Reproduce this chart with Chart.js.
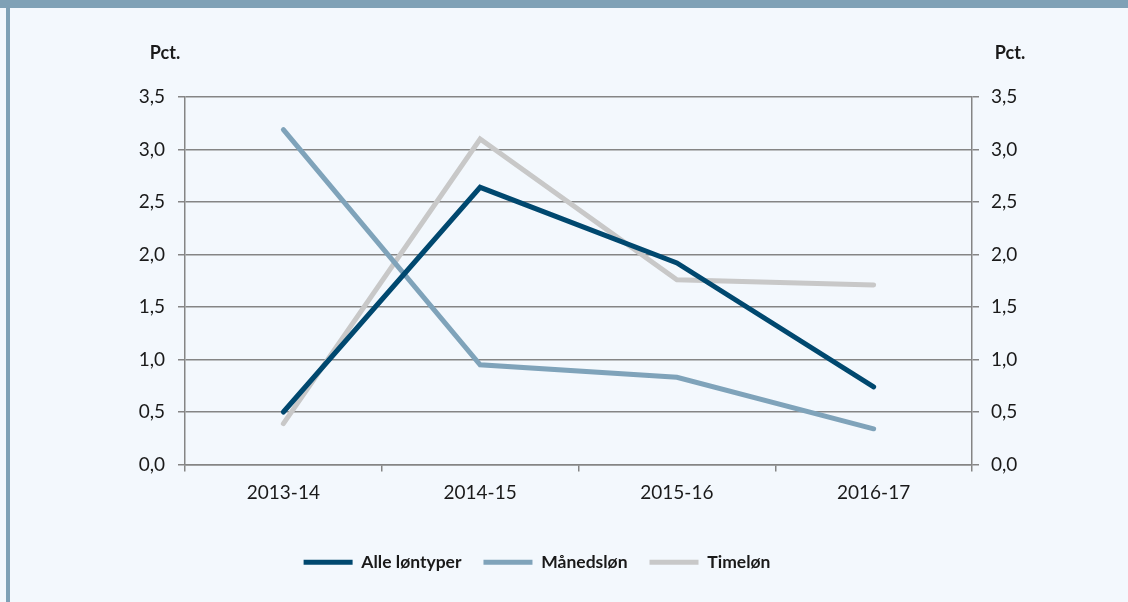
<!DOCTYPE html>
<html>
<head>
<meta charset="utf-8">
<script src="https://cdn.jsdelivr.net/npm/chart.js@4/dist/chart.umd.min.js"></script>
<style>
  html, body { margin: 0; padding: 0; }
  body { width: 1128px; height: 602px; background: #f3f8fd; position: relative; overflow: hidden; }
  #topbar { position: absolute; left: 0; top: 0; width: 1128px; height: 8px; background: #7fa1b6; }
  #leftbar { position: absolute; left: 6px; top: 8px; width: 4px; height: 594px; background: #7fa1b6; }
  #wrap { position: absolute; left: 10px; top: 8px; width: 1118px; height: 594px; }
</style>
</head>
<body>
<div id="topbar"></div>
<div id="leftbar"></div>
<div id="wrap"><canvas id="graf"></canvas></div>
<script>
// data
const perioder = ["2013-14", "2014-15", "2015-16", "2016-17"];
const alleLontyper = [0.5, 2.64, 1.92, 0.74];
const maanedslon = [3.19, 0.95, 0.83, 0.34];
const timelon = [0.39, 3.1, 1.76, 1.71];
const enhed = "Pct.";

const tekstFarve = "#1a1a1a";
const gitterFarve = "#858585";

// skriver "Pct." over begge akser
const pctPlugin = {
    id: "pct",
    afterDraw(chart) {
        const c = chart.ctx;
        const a = chart.chartArea;
        c.save();
        c.font = "bold 18px Lato";
        c.fillStyle = tekstFarve;
        c.textAlign = "center";
        c.textBaseline = "middle";
        c.fillText(enhed, a.left - 20, a.top - 44);
        c.fillText(enhed, a.right + 38, a.top - 44);
        c.restore();
    }
};

function linje(label, data, farve) {
    return {
        label: label,
        data: data,
        borderColor: farve,
        backgroundColor: farve,
        borderWidth: 5,
        borderCapStyle: "round",
        pointRadius: 0,
        pointHoverRadius: 0,
        pointStyle: "line",
        tension: 0
    };
}

document.addEventListener("DOMContentLoaded", function () {
    const ctx = document.getElementById("graf").getContext("2d");
    new Chart(ctx, {
        type: "line",
        data: {
            labels: perioder,
            datasets: [
                linje("Alle løntyper", alleLontyper, "#00486f"),
                linje("Månedsløn", maanedslon, "#7fa3ba"),
                linje("Timeløn", timelon, "#c8c8c8")
            ]
        },
        options: {
            responsive: true,
            maintainAspectRatio: false,
            animation: false,
            // højre padding flytter legenden lidt mod venstre
            layout: { padding: { top: 89, left: 0, right: 64, bottom: 21 } },
            plugins: {
                tooltip: { enabled: false },
                legend: {
                    position: "bottom",
                    labels: {
                        usePointStyle: true,
                        pointStyleWidth: 49,
                        boxHeight: 5,
                        padding: 22,
                        color: tekstFarve,
                        font: { family: "Lato", size: 17.5, weight: "bold" }
                    }
                }
            },
            scales: {
                x: {
                    offset: true,
                    grid: { offset: true, drawOnChartArea: false, drawTicks: true, tickLength: 7, color: gitterFarve, lineWidth: 1.5 },
                    border: { display: true, color: gitterFarve, width: 1.5 },
                    ticks: { color: tekstFarve, padding: 10, font: { family: "Lato", size: 19 } },
                    afterFit(s) { s.height = 67; }
                },
                y: {
                    position: "left",
                    min: 0,
                    max: 3.5,
                    grid: { color: gitterFarve, lineWidth: 1.5, tickLength: 7 },
                    border: { display: true, color: gitterFarve, width: 1.5 },
                    ticks: {
                        stepSize: 0.5,
                        color: tekstFarve,
                        padding: 13,
                        font: { family: "Lato", size: 19 },
                        callback: (v) => v.toFixed(1).replace(".", ",")
                    },
                    afterFit(s) { s.width = 175; }
                },
                y2: {
                    position: "right",
                    min: 0,
                    max: 3.5,
                    grid: { drawOnChartArea: false, color: gitterFarve, lineWidth: 1.5, tickLength: 7 },
                    border: { display: true, color: gitterFarve, width: 1.5 },
                    ticks: {
                        stepSize: 0.5,
                        color: tekstFarve,
                        padding: 12,
                        font: { family: "Lato", size: 19 },
                        callback: (v) => v.toFixed(1).replace(".", ",")
                    },
                    afterFit(s) { s.width = 92; }
                }
            }
        },
        plugins: [pctPlugin]
    });
});
</script>
</body>
</html>
